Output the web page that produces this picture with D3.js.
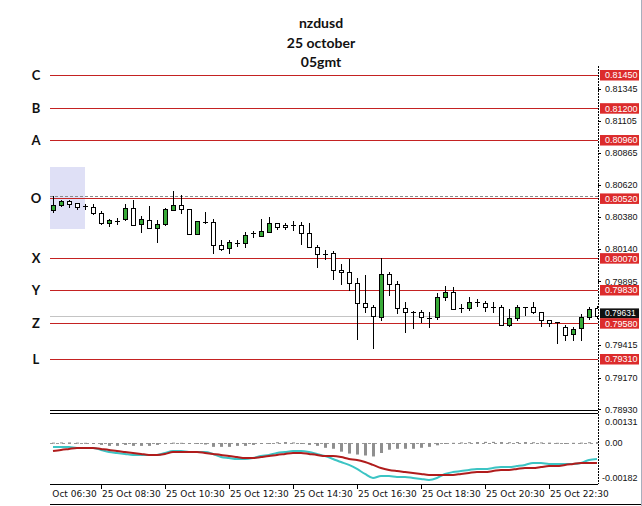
<!DOCTYPE html>
<html><head><meta charset="utf-8">
<script src="https://cdn.jsdelivr.net/npm/d3@7"></script>
<style>body{margin:0;background:#fff;} svg{display:block;}</style>
</head><body>
<script>
// ---------- data ----------
const titleLines = ["nzdusd", "25 october", "05gmt"];
const levelNames = ["C", "B", "A", "O", "X", "Y", "Z", "L"];
const levelValues = [0.81450, 0.81200, 0.80960, 0.80520, 0.80070, 0.79830, 0.79580, 0.79310];
const levelLabels = ["0.81450", "0.81200", "0.80960", "0.80520", "0.80070", "0.79830", "0.79580", "0.79310"];
const dashedLevel = 0.80542;
const boxTop = 0.80757, boxBottom = 0.80290;
const axisTicks = [0.81345, 0.81105, 0.80865, 0.80620, 0.80380, 0.80140, 0.79895, 0.79415, 0.79170, 0.78930];
const bidPrice = 0.79631;
const bidLabel = "0.79631";
const startTime = "2023-10-25 07:00";
const barMinutes = 15;

const opens  = [0.80433,0.80470,0.80501,0.80486,0.80463,0.80455,0.80410,0.80335,0.80352,0.80365,0.80448,0.80327,0.80357,0.80297,0.80327,0.80433,0.80470,0.80440,0.80252,0.80342,0.80342,0.80169,0.80146,0.80184,0.80184,0.80259,0.80237,0.80267,0.80335,0.80320,0.80320,0.80320,0.80259,0.80154,0.80101,0.80109,0.79981,0.79966,0.79883,0.79732,0.79702,0.79627,0.79951,0.79875,0.79694,0.79664,0.79664,0.79619,0.79627,0.79777,0.79815,0.79694,0.79694,0.79740,0.79732,0.79702,0.79702,0.79566,0.79619,0.79702,0.79702,0.79664,0.79604,0.79589,0.79551,0.79498,0.79544,0.79627,0.79694];
const highs  = [0.80538,0.80508,0.80508,0.80486,0.80478,0.80478,0.80425,0.80365,0.80372,0.80478,0.80508,0.80388,0.80463,0.80357,0.80448,0.80576,0.80546,0.80440,0.80350,0.80418,0.80365,0.80207,0.80207,0.80207,0.80267,0.80275,0.80365,0.80380,0.80335,0.80335,0.80350,0.80342,0.80335,0.80169,0.80131,0.80124,0.80026,0.80064,0.79920,0.79943,0.79717,0.80071,0.79966,0.79898,0.79740,0.79672,0.79679,0.79664,0.79807,0.79860,0.79853,0.79724,0.79777,0.79762,0.79747,0.79740,0.79717,0.79687,0.79717,0.79704,0.79740,0.79664,0.79604,0.79592,0.79566,0.79551,0.79649,0.79702,0.79709];
const lows   = [0.80418,0.80463,0.80455,0.80440,0.80440,0.80403,0.80327,0.80312,0.80327,0.80357,0.80320,0.80267,0.80297,0.80192,0.80320,0.80433,0.80410,0.80252,0.80252,0.80335,0.80109,0.80131,0.80109,0.80162,0.80154,0.80229,0.80237,0.80267,0.80290,0.80290,0.80282,0.80177,0.80154,0.80003,0.80064,0.79913,0.79875,0.79830,0.79461,0.79664,0.79393,0.79604,0.79792,0.79657,0.79514,0.79544,0.79589,0.79551,0.79611,0.79755,0.79687,0.79664,0.79679,0.79709,0.79672,0.79664,0.79566,0.79559,0.79604,0.79642,0.79657,0.79559,0.79559,0.79431,0.79453,0.79453,0.79453,0.79611,0.79619];
const closes = [0.80470,0.80501,0.80478,0.80455,0.80460,0.80410,0.80335,0.80357,0.80350,0.80448,0.80320,0.80365,0.80297,0.80327,0.80440,0.80470,0.80440,0.80252,0.80350,0.80345,0.80169,0.80139,0.80192,0.80187,0.80244,0.80257,0.80275,0.80335,0.80305,0.80305,0.80318,0.80259,0.80154,0.80101,0.80099,0.79981,0.79966,0.79883,0.79732,0.79702,0.79634,0.79951,0.79875,0.79694,0.79664,0.79662,0.79627,0.79617,0.79777,0.79815,0.79687,0.79692,0.79740,0.79738,0.79702,0.79700,0.79566,0.79619,0.79702,0.79700,0.79664,0.79604,0.79581,0.79587,0.79491,0.79536,0.79627,0.79687,0.79631];

const macdMain = [-0.00021,-0.00021,-0.00021,-0.00026,-0.00026,-0.00026,-0.00036,-0.00047,-0.00052,-0.00057,-0.00062,-0.00062,-0.00062,-0.00062,-0.00052,-0.00042,-0.00042,-0.00047,-0.00047,-0.00047,-0.00057,-0.00073,-0.00078,-0.00083,-0.00083,-0.00078,-0.00068,-0.00062,-0.00052,-0.00047,-0.00042,-0.00042,-0.00047,-0.00057,-0.00068,-0.00083,-0.00099,-0.00114,-0.00135,-0.00161,-0.00182,-0.00172,-0.00172,-0.00177,-0.00177,-0.00182,-0.00187,-0.00192,-0.00182,-0.00161,-0.00151,-0.00146,-0.00140,-0.00135,-0.00135,-0.00130,-0.00125,-0.00125,-0.00120,-0.00114,-0.00104,-0.00104,-0.00109,-0.00109,-0.00109,-0.00109,-0.00104,-0.00088,-0.00083];
const macdSignal = [-0.00042,-0.00036,-0.00031,-0.00026,-0.00026,-0.00026,-0.00031,-0.00036,-0.00042,-0.00047,-0.00052,-0.00057,-0.00062,-0.00062,-0.00057,-0.00047,-0.00047,-0.00047,-0.00047,-0.00052,-0.00057,-0.00062,-0.00068,-0.00073,-0.00078,-0.00078,-0.00073,-0.00068,-0.00062,-0.00057,-0.00052,-0.00052,-0.00057,-0.00062,-0.00068,-0.00068,-0.00073,-0.00083,-0.00088,-0.00099,-0.00114,-0.00130,-0.00140,-0.00146,-0.00151,-0.00156,-0.00161,-0.00166,-0.00166,-0.00166,-0.00166,-0.00161,-0.00156,-0.00151,-0.00151,-0.00146,-0.00140,-0.00140,-0.00135,-0.00130,-0.00130,-0.00125,-0.00120,-0.00120,-0.00114,-0.00109,-0.00104,-0.00104,-0.00104];
const macdHist = [0.00002,0.00003,0.00003,0.00002,0.00001,0,-0.00010,-0.00015,-0.00015,-0.00010,-0.00015,-0.00015,-0.00015,-0.00010,-0.00005,0.00002,0.00001,-0.00003,-0.00005,-0.00008,-0.00020,-0.00020,-0.00020,-0.00015,-0.00015,-0.00010,-0.00005,0,0.00004,0.00005,0.00003,0,-0.00010,-0.00015,-0.00025,-0.00030,-0.00045,-0.00055,-0.00060,-0.00065,-0.00070,-0.00052,-0.00035,-0.00030,-0.00030,-0.00030,-0.00025,-0.00020,-0.00012,-0.00005,0.00001,0.00003,0.00004,0.00005,0.00006,0.00006,0.00005,0.00004,0.00005,0.00005,0.00004,0.00003,0.00002,0.00001,0,0.00001,0.00002,0.00004,0.00005];
const indTicks = [0.00131, 0, -0.00182];
const indTickLabels = ["0.00131", "0.00", "-0.00182"];
const timeLabels = ["25 Oct 06:30","25 Oct 08:30","25 Oct 10:30","25 Oct 12:30","25 Oct 14:30","25 Oct 16:30","25 Oct 18:30","25 Oct 20:30","25 Oct 22:30"];

// ---------- setup ----------
const W = 642, H = 506;
const plotL = 50, plotR = 598;
const svg = d3.select("body").append("svg").attr("width", W).attr("height", H)
  .style("font-family", "'Liberation Sans', Arial, sans-serif");

const parseT = d3.timeParse("%Y-%m-%d %H:%M");
const parseLabel = s => d3.timeParse("%Y %d %b %H:%M")("2023 " + s);
const t0 = parseT(startTime);
const times = opens.map((_, i) => d3.timeMinute.offset(t0, i * barMinutes));

const x = d3.scaleTime()
  .domain([parseLabel(timeLabels[0]), d3.timeHour.offset(parseLabel(timeLabels[0]), 17)])
  .range([37, 581]);
const y = d3.scaleLinear().domain([0.79310, 0.81450]).range([359, 75]);
const yi = d3.scaleLinear().domain([-0.00182, 0]).range([478, 443]);

const defs = svg.append("defs");
defs.append("clipPath").attr("id", "clipMain").append("rect")
  .attr("x", plotL).attr("y", 60).attr("width", plotR - plotL).attr("height", 350);
defs.append("clipPath").attr("id", "clipInd").append("rect")
  .attr("x", plotL).attr("y", 414).attr("width", plotR - plotL).attr("height", 70);
defs.append("clipPath").attr("id", "clipAxis").append("rect")
  .attr("x", plotL).attr("y", 484).attr("width", 560).attr("height", 20);

// title
svg.append("g").selectAll("text").data(titleLines).join("text")
  .attr("x", 321).attr("y", (d, i) => 28 + i * 19.5)
  .attr("text-anchor", "middle")
  .style("font-family", "Lato, 'Open Sans', sans-serif")
  .style("font-weight", 700).style("font-size", "14px").attr("fill", "#111")
  .text(d => d);

const main = svg.append("g").attr("clip-path", "url(#clipMain)");

// shaded box around first bars
main.append("rect")
  .attr("x", plotL).attr("width", x(d3.timeMinute.offset(t0, 60)) - plotL)
  .attr("y", Math.round(y(boxTop))).attr("height", Math.round(y(boxBottom)) - Math.round(y(boxTop)))
  .attr("fill", "#dfe0f6");

// dashed level
main.append("line").attr("x1", plotL).attr("x2", plotR)
  .attr("y1", Math.round(y(dashedLevel)) + 0.5).attr("y2", Math.round(y(dashedLevel)) + 0.5)
  .attr("stroke", "#8a8a8a").attr("stroke-dasharray", "3,2");

// level lines
main.selectAll(".lvl").data(levelValues).join("line")
  .attr("x1", plotL).attr("x2", plotR)
  .attr("y1", d => Math.round(y(d)) + 0.5).attr("y2", d => Math.round(y(d)) + 0.5)
  .attr("stroke", "#c42222").attr("stroke-width", 1);

// bid line
main.append("line").attr("x1", plotL).attr("x2", plotR)
  .attr("y1", Math.round(y(bidPrice)) + 0.5).attr("y2", Math.round(y(bidPrice)) + 0.5)
  .attr("stroke", "#c4c4c4");

// candles
const cg = main.append("g");
opens.forEach((o, i) => {
  const cx = Math.round(x(times[i]));
  const h = highs[i], l = lows[i], c = closes[i];
  cg.append("line").attr("x1", cx + 0.5).attr("x2", cx + 0.5)
    .attr("y1", Math.round(y(h))).attr("y2", Math.round(y(l)) + 1)
    .attr("stroke", "#000").attr("stroke-width", 1);
  const yt = Math.round(y(Math.max(o, c))), yb = Math.round(y(Math.min(o, c)));
  if (yb - yt < 2) {
    cg.append("line").attr("x1", cx - 2).attr("x2", cx + 3)
      .attr("y1", yt + 0.5).attr("y2", yt + 0.5).attr("stroke", "#000").attr("stroke-width", yb - yt >= 1 ? 2 : 1);
  } else {
    cg.append("rect").attr("x", cx - 1.5).attr("width", 4)
      .attr("y", yt + 0.5).attr("height", yb - yt)
      .attr("fill", c > o ? "#38aa38" : "#ffffff").attr("stroke", "#000").attr("stroke-width", 1);
  }
});

// left level letters
svg.append("g").selectAll("text").data(levelNames).join("text")
  .attr("x", 36).attr("y", (d, i) => y(levelValues[i]))
  .attr("dy", "0.36em").attr("text-anchor", "middle")
  .style("font-family", "Lato, 'Open Sans', sans-serif")
  .style("font-weight", 700).style("font-size", "13px").attr("fill", "#111")
  .text(d => d);

// right axis (dotted)
svg.append("line").attr("x1", plotR + 0.5).attr("x2", plotR + 0.5).attr("y1", 66).attr("y2", 484)
  .attr("stroke", "#000").attr("stroke-dasharray", "2,1");

const ax = svg.append("g").style("font-size", "9px");
ax.selectAll(".tk").data(axisTicks).join("line")
  .attr("x1", plotR).attr("x2", plotR + 3)
  .attr("y1", d => Math.round(y(d)) + 0.5).attr("y2", d => Math.round(y(d)) + 0.5).attr("stroke", "#000");
ax.selectAll(".tl").data(axisTicks).join("text")
  .attr("x", 605).attr("y", d => y(d)).attr("dy", "0.35em").attr("fill", "#111")
  .text(d => d.toFixed(5));

// bid label (black) under red boxes, nudged up as in the terminal
ax.append("rect").attr("x", 600).attr("width", 39).attr("y", y(bidPrice) - 8).attr("height", 10).attr("fill", "#111");
ax.append("text").attr("x", 605).attr("y", y(bidPrice) - 3.5).attr("dy", "0.35em").attr("fill", "#fff")
  .style("font-size", "8.5px").text(bidLabel);

// red level boxes
const rb = ax.selectAll(".rb").data(levelValues).join("g")
  .attr("transform", d => `translate(0,${y(d)})`);
rb.append("rect").attr("x", 600).attr("width", 39).attr("y", -5).attr("height", 10.5).attr("fill", "#dc2b2b");
rb.append("text").attr("x", 605).attr("dy", "0.38em").attr("fill", "#fff").text((d, i) => levelLabels[i]);

// separator between panels
svg.append("line").attr("x1", plotL).attr("x2", plotR).attr("y1", 410.5).attr("y2", 410.5).attr("stroke", "#000");
svg.append("line").attr("x1", plotL).attr("x2", plotR).attr("y1", 413.5).attr("y2", 413.5).attr("stroke", "#000");

// indicator panel
const ind = svg.append("g").attr("clip-path", "url(#clipInd)");
ind.append("line").attr("x1", plotL).attr("x2", plotR).attr("y1", Math.round(yi(0)) + 0.5).attr("y2", Math.round(yi(0)) + 0.5)
  .attr("stroke", "#9a9a9a").attr("stroke-dasharray", "3,3");
ind.selectAll(".hb").data(macdHist).join("rect")
  .attr("x", (d, i) => Math.round(x(times[i])) - 1).attr("width", 3)
  .attr("y", d => Math.min(yi(d), yi(0))).attr("height", d => Math.max(1, Math.abs(yi(d) - yi(0))))
  .attr("fill", "#8f8f8f");
const lineGen = d3.line().x((d, i) => x(times[i])).y(d => yi(d)).curve(d3.curveMonotoneX);
ind.append("path").datum(macdMain).attr("d", lineGen).attr("fill", "none").attr("stroke", "#3cc4c4").attr("stroke-width", 2);
ind.append("path").datum(macdSignal).attr("d", lineGen).attr("fill", "none").attr("stroke", "#b01c1c").attr("stroke-width", 2);

ax.selectAll(".il").data(indTicks).join("text")
  .attr("x", (d, i) => d < 0 ? 602 : 605)
  .attr("y", (d, i) => i === 0 ? yi(d) + 4 : yi(d)).attr("dy", "0.35em").attr("fill", "#111")
  .text((d, i) => indTickLabels[i]);

// time axis
svg.append("line").attr("x1", plotL).attr("x2", plotR).attr("y1", 484.5).attr("y2", 484.5).attr("stroke", "#000");
const tg = svg.append("g").attr("clip-path", "url(#clipAxis)");
timeLabels.forEach(s => {
  const tx = Math.round(x(parseLabel(s)));
  tg.append("line").attr("x1", tx + 0.5).attr("x2", tx + 0.5).attr("y1", 484).attr("y2", 489).attr("stroke", "#000");
  tg.append("text").attr("x", tx + 1).attr("y", 497).attr("fill", "#111")
    .style("font-family", "'DejaVu Sans', sans-serif").style("font-size", "9px").text(s);
});
svg.append("line").attr("x1", plotL).attr("x2", W).attr("y1", 504.5).attr("y2", 504.5).attr("stroke", "#000");
svg.append("line").attr("x1", W - 0.5).attr("x2", W - 0.5).attr("y1", 0).attr("y2", H).attr("stroke", "#a7afbd");
</script>
</body></html>
